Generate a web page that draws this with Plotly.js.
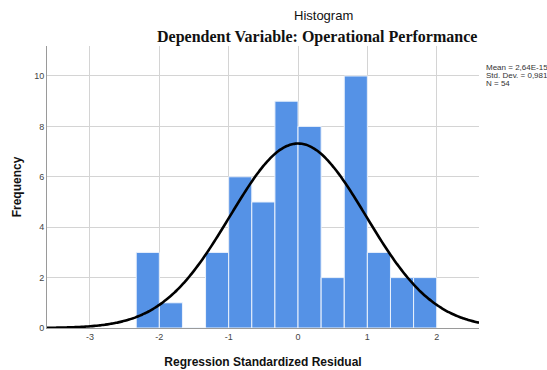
<!DOCTYPE html>
<html>
<head>
<meta charset="utf-8">
<script src="https://cdn.plot.ly/plotly-3.0.1.min.js"></script>
<style>html,body{margin:0;padding:0;background:#fff;}#chart{width:547px;height:370px;}</style>
</head>
<body>
<div id="chart"></div>
<script>
// Histogram bins (left edges) and frequencies
var binLeft = [-2.3333, -2.0, -1.6667, -1.3333, -1.0, -0.6667, -0.3333, 0.0, 0.3333, 0.6667, 1.0, 1.3333, 1.6667];
var counts  = [3, 1, 0, 3, 6, 5, 9, 8, 2, 10, 3, 2, 2];
var binWidth = 1/3;
// Summary statistics shown on the chart
var statMean = 2.64e-15;
var statSD = 0.981;
var statN = 54;
var statLabels = ["Mean = 2,64E-15", "Std. Dev. = 0,981", "N = 54"];
var xTicks = [-3, -2, -1, 0, 1, 2];
var yTicks = [0, 2, 4, 6, 8, 10];

var centers = binLeft.map(function(b){ return b + binWidth/2; });

// Normal curve defined by the stated mean, SD and N
var xr = [-3.62, 2.61];
var cx = [], cy = [];
for (var i = 0; i <= 200; i++) {
  var x = xr[0] + (xr[1]-xr[0]) * i / 200;
  cx.push(x);
  var z = (x - statMean) / statSD;
  cy.push(statN * binWidth / (statSD * Math.sqrt(2*Math.PI)) * Math.exp(-0.5*z*z));
}

var traces = [
  {type:'bar', x:centers, y:counts, width:binWidth,
   marker:{color:'#5592e6', line:{color:'rgba(235,242,252,1)', width:1}},
   hoverinfo:'skip', showlegend:false},
  {type:'scatter', mode:'lines', x:cx, y:cy, line:{color:'#000', width:2.6, shape:'spline'},
   hoverinfo:'skip', showlegend:false}
];

var sans = 'Liberation Sans, Arial, sans-serif';
var anns = [
  {xref:'paper', yref:'paper', x:(323-47)/432, y:1+(328-16-282)/282, text:'Histogram', showarrow:false,
   xanchor:'center', yanchor:'middle', font:{family:sans, size:13, color:'#111'}},
  {xref:'paper', yref:'paper', x:(317-47)/432, y:1+(328-37-282)/282, text:'<b>Dependent Variable: Operational Performance</b>', showarrow:false,
   xanchor:'center', yanchor:'middle', font:{family:'Liberation Serif, Times New Roman, serif', size:16, color:'#111'}}
];
var statY = [67, 75, 83];
for (var k = 0; k < statLabels.length; k++) {
  anns.push({xref:'paper', yref:'paper', x:(484-47)/432, y:(328-statY[k])/282, text:statLabels[k], showarrow:false,
    xanchor:'left', yanchor:'middle', font:{family:sans, size:8, color:'#333'}});
}

var layout = {
  width:547, height:370,
  margin:{l:47, r:68, t:46, b:42, pad:0},
  paper_bgcolor:'#fff', plot_bgcolor:'#fff',
  bargap:0,
  xaxis:{range:xr, tickvals:xTicks, ticktext:xTicks.map(String), showgrid:true, gridcolor:'#d4d4d4', gridwidth:1,
    zeroline:false, showline:true, linecolor:'#9a9a9a', linewidth:1, ticks:'', ticklen:0,
    tickfont:{family:sans, size:9, color:'#444'},
    title:{text:'<b>Regression Standardized Residual</b>', font:{family:sans, size:12, color:'#111'}, standoff:16}},
  yaxis:{range:[0, 11.19], tickvals:yTicks, ticktext:yTicks.map(String), showgrid:true, gridcolor:'#d4d4d4', gridwidth:1,
    zeroline:false, showline:true, linecolor:'#9a9a9a', linewidth:1, ticks:'', ticklen:0,
    tickfont:{family:sans, size:9, color:'#444'},
    title:{text:'<b>Frequency</b>', font:{family:sans, size:12, color:'#111'}, standoff:9}},
  annotations:anns,
  showlegend:false
};

Plotly.newPlot('chart', traces, layout, {displayModeBar:false, staticPlot:true});
</script>
</body>
</html>
